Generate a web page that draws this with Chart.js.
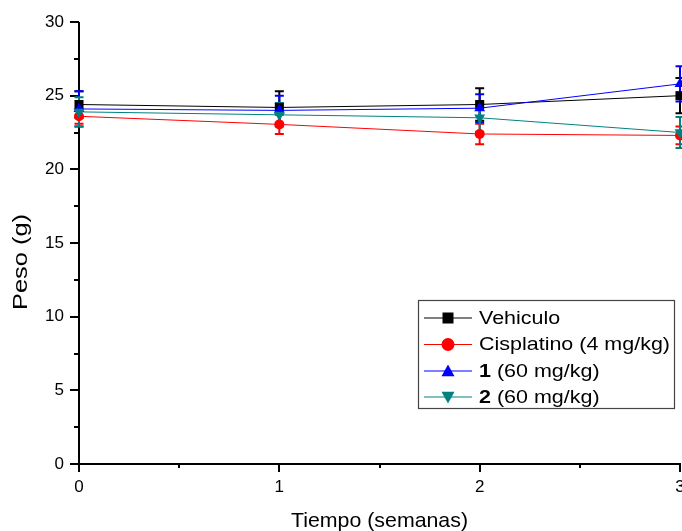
<!DOCTYPE html>
<html><head><meta charset="utf-8">
<script src="https://cdn.jsdelivr.net/npm/chart.js@4.4.0/dist/chart.umd.min.js"></script>
<style>html,body{margin:0;padding:0;background:#fff;}#wrap{width:682px;height:531px;position:relative;}</style>
</head><body><div id="wrap"><canvas id="c" width="682" height="531"></canvas></div>
<script>
// ---- data ----
const weeks = [0, 1, 2, 3];
const xTickValues = [0, 0.5, 1, 1.5, 2, 2.5, 3];
const yTickValues = [0, 2.5, 5, 7.5, 10, 12.5, 15, 17.5, 20, 22.5, 25, 27.5, 30];
const seriesNames = ['Vehiculo', 'Cisplatino (4 mg/kg)', '1', '2'];
const vehiculo = [24.4, 24.2, 24.4, 25.0];
const vehiculoErr = [0.9, 1.1, 1.1, 1.2];
const cisplatino = [23.6, 23.05, 22.4, 22.3];
const cisplatinoErr = [0.5, 0.65, 0.7, 0.6];
const comp1 = [24.1, 24.0, 24.15, 25.8];
const comp1Err = [1.2, 1.0, 0.95, 1.2];
const comp2 = [23.9, 23.7, 23.5, 22.5];
const comp2Err = [1.0, 0.8, 0.95, 1.05];
const xTitle = 'Tiempo (semanas)';
const yTitle = 'Peso (g)';

const FONT = "'Liberation Sans', Arial, sans-serif";
const colors = ['#000000', '#ff0000', '#0000ff', '#008080'];
const values = [vehiculo, cisplatino, comp1, comp2];
const errors = [vehiculoErr, cisplatinoErr, comp1Err, comp2Err];
const styles = [
  {pointStyle: 'rect', pointRadius: 6.4, rot: 0},
  {pointStyle: 'circle', pointRadius: 5, rot: 0},
  {pointStyle: 'triangle', pointRadius: 6.3, rot: 0},
  {pointStyle: 'triangle', pointRadius: 6.3, rot: 180}
];
const legendBold = ['', '', '1', '2'];
const legendRest = ['Vehiculo', 'Cisplatino (4 mg/kg)', ' (60 mg/kg)', ' (60 mg/kg)'];
const legendMarker = ['rect', 'circle', 'up', 'down'];

const datasets = seriesNames.map((name, i) => ({
  label: name,
  data: weeks.map((w, j) => ({x: w, y: values[i][j]})),
  borderColor: colors[i],
  backgroundColor: colors[i],
  borderWidth: 1,
  pointStyle: styles[i].pointStyle,
  pointRadius: styles[i].pointRadius,
  pointRotation: styles[i].rot,
  pointBorderWidth: 0,
  pointBackgroundColor: colors[i],
  order: 4 - i,
  clip: false,
  tension: 0
}));

function drawMarker(ctx, kind, x, y, s, color) {
  ctx.fillStyle = color;
  ctx.beginPath();
  if (kind === 'rect') ctx.rect(x - s / 2, y - s / 2, s, s);
  else if (kind === 'circle') ctx.arc(x, y, s / 2, 0, Math.PI * 2);
  else if (kind === 'up') { ctx.moveTo(x, y - s * 0.5); ctx.lineTo(x + s / 2, y + s * 0.4); ctx.lineTo(x - s / 2, y + s * 0.4); }
  else { ctx.moveTo(x, y + s * 0.5); ctx.lineTo(x + s / 2, y - s * 0.4); ctx.lineTo(x - s / 2, y - s * 0.4); }
  ctx.closePath();
  ctx.fill();
}

const customPlugin = {
  id: 'custom',
  afterLayout(chart) {
    const xs = chart.scales.x;
    chart.chartArea.right = 680;
    chart.chartArea.width = 680 - chart.chartArea.left;
    xs.right = 680;
    xs.width = 680 - xs.left;
    xs.configure();
  },
  beforeDatasetsDraw(chart) {
    const ctx = chart.ctx, xs = chart.scales.x, ys = chart.scales.y, a = chart.chartArea;
    ctx.save();
    ctx.strokeStyle = '#000'; ctx.lineWidth = 2; ctx.lineCap = 'butt';
    const x0 = xs.getPixelForValue(0), x3 = xs.getPixelForValue(3);
    const yb = ys.getPixelForValue(0), yt = ys.getPixelForValue(30);
    ctx.beginPath();
    ctx.moveTo(x0, yt); ctx.lineTo(x0, yb);
    ctx.moveTo(x0 - 1, yb); ctx.lineTo(x3 + 1, yb);
    ctx.stroke();
    ctx.beginPath();
    yTickValues.forEach(v => {
      const p = Math.round(ys.getPixelForValue(v));
      const len = (v % 5 === 0) ? 9 : 5;
      ctx.moveTo(x0 - len, p); ctx.lineTo(x0, p);
    });
    xTickValues.forEach(v => {
      const p = Math.round(xs.getPixelForValue(v));
      const len = Number.isInteger(v) ? 8 : 4;
      ctx.moveTo(p, yb); ctx.lineTo(p, yb + len);
    });
    ctx.stroke();
    // error bars
    values.forEach((vals, i) => {
      ctx.strokeStyle = colors[i]; ctx.lineWidth = 2;
      ctx.beginPath();
      weeks.forEach((w, j) => {
        const px = xs.getPixelForValue(w);
        const top = ys.getPixelForValue(vals[j] + errors[i][j]);
        const bot = ys.getPixelForValue(vals[j] - errors[i][j]);
        ctx.moveTo(px, top); ctx.lineTo(px, bot);
        ctx.moveTo(px - 4.5, top); ctx.lineTo(px + 4.5, top);
        ctx.moveTo(px - 4.5, bot); ctx.lineTo(px + 4.5, bot);
      });
      ctx.stroke();
    });
    ctx.restore();
  },
  afterDraw(chart) {
    const ctx = chart.ctx;
    ctx.save();
    ctx.fillStyle = '#000';
    // axis titles (slightly wide lettering like the reference)
    ctx.font = '21px ' + FONT;
    ctx.textAlign = 'center'; ctx.textBaseline = 'alphabetic';
    let w = ctx.measureText(xTitle).width;
    ctx.save(); ctx.translate(379.5, 527); ctx.scale(177 / w, 1); ctx.fillText(xTitle, 0, 0); ctx.restore();
    ctx.font = '20px ' + FONT;
    w = ctx.measureText(yTitle).width;
    ctx.save(); ctx.translate(27, 262); ctx.rotate(-Math.PI / 2); ctx.scale(96 / w, 1); ctx.fillText(yTitle, 0, 0); ctx.restore();
    // legend box
    ctx.strokeStyle = '#444'; ctx.lineWidth = 1.2;
    ctx.strokeRect(418.5, 300.5, 256, 108);
    const rows = [317.5, 344, 370.5, 396.5];
    ctx.font = '19px ' + FONT;
    const sx = 191 / ctx.measureText('Cisplatino (4 mg/kg)').width;
    rows.forEach((ry, i) => {
      ctx.strokeStyle = colors[i]; ctx.lineWidth = 1;
      ctx.beginPath(); ctx.moveTo(424, ry + 0.5); ctx.lineTo(472, ry + 0.5); ctx.stroke();
      const sz = legendMarker[i] === 'rect' ? 11 : 13;
      drawMarker(ctx, legendMarker[i], 448, ry + 0.5, sz, colors[i]);
      ctx.fillStyle = '#000'; ctx.textBaseline = 'middle'; ctx.textAlign = 'left';
      ctx.save(); ctx.translate(479, ry + 1); ctx.scale(sx, 1);
      let tx = 0;
      if (legendBold[i]) {
        ctx.font = 'bold 19px ' + FONT;
        ctx.fillText(legendBold[i], tx, 0);
        tx += ctx.measureText(legendBold[i]).width;
      }
      ctx.font = '19px ' + FONT;
      ctx.fillText(legendRest[i], tx, 0);
      ctx.restore();
    });
    ctx.restore();
  }
};

new Chart(document.getElementById('c'), {
  type: 'line',
  data: {datasets},
  options: {
    responsive: false,
    devicePixelRatio: 1,
    animation: false,
    events: [],
    layout: {padding: {top: 22, right: 0, bottom: 0, left: 0}},
    plugins: {legend: {display: false}, tooltip: {enabled: false}},
    scales: {
      x: {
        type: 'linear', min: 0, max: 3,
        grid: {display: false, drawTicks: false},
        border: {display: false},
        afterBuildTicks: s => { s.ticks = xTickValues.map(v => ({value: v})); },
        afterFit: s => { s.height = 67; s.paddingLeft = 0; s.paddingRight = 0; },
        ticks: {
          autoSkip: false, maxRotation: 0, padding: 13, color: '#000',
          font: {family: FONT, size: 17},
          callback: v => Number.isInteger(v) ? String(v) : ''
        },
        title: {display: false}
      },
      y: {
        type: 'linear', min: 0, max: 30,
        grid: {display: false, drawTicks: false},
        border: {display: false},
        afterBuildTicks: s => { s.ticks = yTickValues.map(v => ({value: v})); },
        afterFit: s => { s.width = 79; s.paddingTop = 0; s.paddingBottom = 0; },
        ticks: {
          autoSkip: false, padding: 15, color: '#000',
          font: {family: FONT, size: 17},
          callback: v => (v % 5 === 0) ? String(v) : ''
        },
        title: {display: false}
      }
    }
  },
  plugins: [customPlugin]
});
</script></body></html>
